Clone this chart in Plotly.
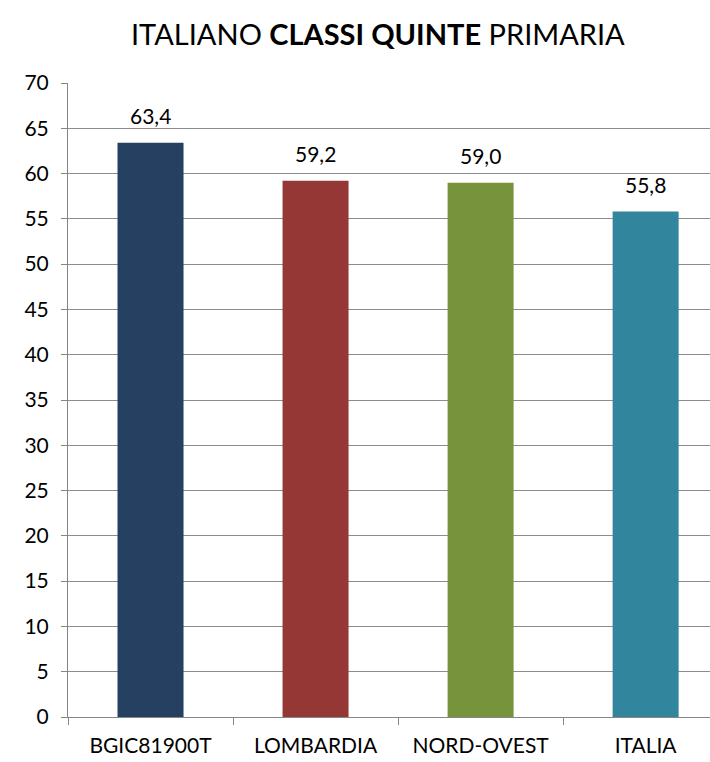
import plotly.graph_objects as go

categories = ["BGIC81900T", "LOMBARDIA", "NORD-OVEST", "ITALIA"]
values = [63.4, 59.2, 59.0, 55.8]
colors = ["#254061", "#953735", "#77933C", "#31859C"]
title_text = "ITALIANO <b>CLASSI QUINTE</b> PRIMARIA"
y_ticks = list(range(0, 75, 5))

FONT = "Lato, 'Open Sans', sans-serif"

fig = go.Figure()
fig.add_trace(go.Bar(
    x=categories, y=values,
    marker=dict(color=colors, line=dict(width=0)),
    width=0.4,
    hoverinfo="skip",
))

for c, v in zip(categories, values):
    fig.add_annotation(
        x=c, y=v, xref="x", yref="y",
        text=f"{v:.1f}".replace(".", ","),
        showarrow=False, yanchor="bottom", yshift=13,
        font=dict(family=FONT, size=21, color="#000000"),
    )

fig.add_annotation(
    x=0.483, y=1.0, xref="paper", yref="paper", yanchor="middle",
    yshift=50,
    text=title_text, showarrow=False,
    font=dict(family=FONT, size=29, color="#000000"),
)

fig.update_layout(
    width=710, height=762,
    margin=dict(l=68, r=0, t=83, b=45, autoexpand=False),
    paper_bgcolor="white", plot_bgcolor="white",
    showlegend=False,
    bargap=0.6,
    font=dict(family=FONT, size=21, color="#000000"),
    separators=",.",
)
fig.update_xaxes(
    type="category",
    range=[-0.5, 3.39],
    tickson="boundaries",
    ticks="outside", ticklen=7, tickcolor="#868686", tickwidth=1,
    showline=True, linecolor="#868686", linewidth=1,
    showgrid=False, automargin=False,
    ticklabelstandoff=10,
    tickfont=dict(family=FONT, size=21, color="#000000"),
)
fig.update_yaxes(
    range=[0, 70],
    tickvals=y_ticks,
    ticks="outside", ticklen=6, tickcolor="#868686", tickwidth=1,
    showline=True, linecolor="#868686", linewidth=1,
    showgrid=True, gridcolor="#8C8C8C", gridwidth=1,
    zeroline=False, automargin=False,
    ticklabelstandoff=8,
    tickfont=dict(family=FONT, size=21, color="#000000"),
)

fig.write_html(
    "out.html",
    config={"displayModeBar": False},
    post_script="document.body.style.margin='0';document.body.style.overflow='hidden';",
)
